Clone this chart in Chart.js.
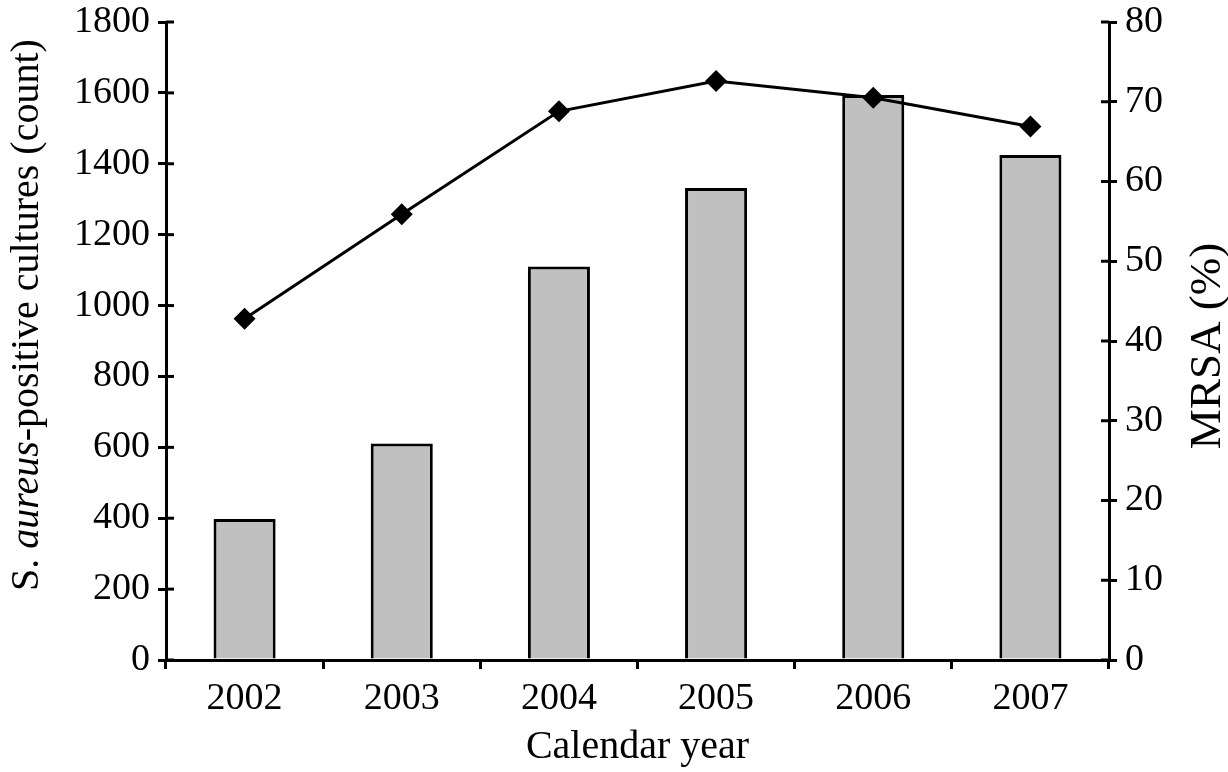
<!DOCTYPE html>
<html>
<head>
<meta charset="utf-8">
<style>
  html, body { margin: 0; padding: 0; background: #ffffff; }
  #wrap { width: 1228px; height: 772px; }
</style>
<script src="https://cdn.jsdelivr.net/npm/chart.js@4.4.1/dist/chart.umd.min.js"></script>
</head>
<body>
<div id="wrap"><canvas id="c" width="1228" height="772"></canvas></div>
<script>
// ---- data ----
const years = ['2002', '2003', '2004', '2005', '2006', '2007'];
const cultureCounts = [398, 611, 1110, 1332, 1594, 1425];
const mrsaPercent = [42.8, 55.9, 68.8, 72.6, 70.5, 66.9];
const countAxis = { min: 0, max: 1800, step: 200 };
const percentAxis = { min: 0, max: 80, step: 10 };
const xTitle = 'Calendar year';
const yTitleParts = [
  { text: 'S. ', italic: false },
  { text: 'aureus', italic: true },
  { text: '-positive cultures (count)', italic: false }
];
const y1Title = 'MRSA (%)';

const FONT = '"Liberation Serif", "Times New Roman", serif';
const tickFont = { family: FONT, size: 38, lineHeight: 1 };

const titlesPlugin = {
  id: 'titles',
  afterDraw(chart) {
    const ctx = chart.ctx;
    const area = chart.chartArea;
    const yS = chart.scales.y, y1S = chart.scales.y1;
    ctx.save();
    ctx.fillStyle = '#000';
    ctx.strokeStyle = '#000';
    ctx.lineWidth = 3;
    // inward halves of the y tick marks
    yS.ticks.forEach((t, i) => {
      const py = yS.getPixelForTick(i);
      ctx.beginPath(); ctx.moveTo(area.left, py); ctx.lineTo(area.left + 8, py); ctx.stroke();
    });
    y1S.ticks.forEach((t, i) => {
      const py = y1S.getPixelForTick(i);
      ctx.beginPath(); ctx.moveTo(area.right - 8, py); ctx.lineTo(area.right, py); ctx.stroke();
    });
    // x title
    ctx.font = '40px ' + FONT;
    ctx.textAlign = 'center';
    ctx.textBaseline = 'alphabetic';
    ctx.fillText(xTitle, (area.left + area.right) / 2, 758);
    // left title (mixed italic)
    const fonts = yTitleParts.map(p => (p.italic ? 'italic ' : '') + '40px ' + FONT);
    let total = 0;
    const widths = yTitleParts.map((p, i) => { ctx.font = fonts[i]; const w = ctx.measureText(p.text).width; total += w; return w; });
    ctx.save();
    ctx.translate(38, 315);
    ctx.rotate(-Math.PI / 2);
    ctx.textAlign = 'left';
    let x = -total / 2;
    yTitleParts.forEach((p, i) => { ctx.font = fonts[i]; ctx.fillText(p.text, x, 0); x += widths[i]; });
    ctx.restore();
    // right title
    ctx.save();
    ctx.translate(1220, 346);
    ctx.rotate(-Math.PI / 2);
    ctx.font = '45px ' + FONT;
    ctx.textAlign = 'center';
    ctx.fillText(y1Title, 0, 0);
    ctx.restore();
    ctx.restore();
  }
};

new Chart(document.getElementById('c'), {
  type: 'bar',
  data: {
    labels: years,
    datasets: [
      {
        type: 'line',
        label: 'MRSA (%)',
        data: mrsaPercent,
        yAxisID: 'y1',
        borderColor: '#000',
        backgroundColor: '#000',
        borderWidth: 3,
        pointStyle: 'rectRot',
        pointRadius: 11,
        pointHoverRadius: 11,
        pointBackgroundColor: '#000',
        pointBorderColor: '#000',
        pointBorderWidth: 0,
        tension: 0,
        order: 0
      },
      {
        type: 'bar',
        label: 'S. aureus-positive cultures',
        data: cultureCounts,
        yAxisID: 'y',
        backgroundColor: '#c0c0c0',
        borderColor: '#000',
        borderWidth: 3,
        categoryPercentage: 1,
        barPercentage: 0.395,
        order: 1
      }
    ]
  },
  options: {
    responsive: false,
    animation: false,
    devicePixelRatio: 1,
    layout: { padding: { top: 22, left: 0, right: 0, bottom: 0 } },
    plugins: {
      legend: { display: false },
      tooltip: { enabled: false },
      title: { display: false }
    },
    scales: {
      x: {
        type: 'category',
        offset: true,
        grid: { display: true, drawOnChartArea: false, drawTicks: true, tickLength: 9, lineWidth: 3, color: '#000', offset: true },
        border: { display: true, color: '#000', width: 3 },
        ticks: { font: tickFont, color: '#000', padding: 11, maxRotation: 0 },
        afterFit(s) { s.height = 112; s.paddingLeft = 0; s.paddingRight = 0; }
      },
      y: {
        position: 'left',
        min: countAxis.min, max: countAxis.max,
        grid: { display: true, drawOnChartArea: false, drawTicks: true, tickLength: 8, lineWidth: 3, color: '#000' },
        border: { display: true, color: '#000', width: 3 },
        ticks: { stepSize: countAxis.step, font: tickFont, color: '#000', padding: 8, callback: v => String(v) },
        afterFit(s) { s.width = 166; s.paddingTop = 0; s.paddingBottom = 0; }
      },
      y1: {
        position: 'right',
        min: percentAxis.min, max: percentAxis.max,
        grid: { display: true, drawOnChartArea: false, drawTicks: true, tickLength: 8, lineWidth: 3, color: '#000' },
        border: { display: true, color: '#000', width: 3 },
        ticks: { stepSize: percentAxis.step, font: tickFont, color: '#000', padding: 8, callback: v => String(v) },
        afterFit(s) { s.width = 119; s.paddingTop = 0; s.paddingBottom = 0; }
      }
    }
  },
  plugins: [titlesPlugin]
});
</script>
</body>
</html>
